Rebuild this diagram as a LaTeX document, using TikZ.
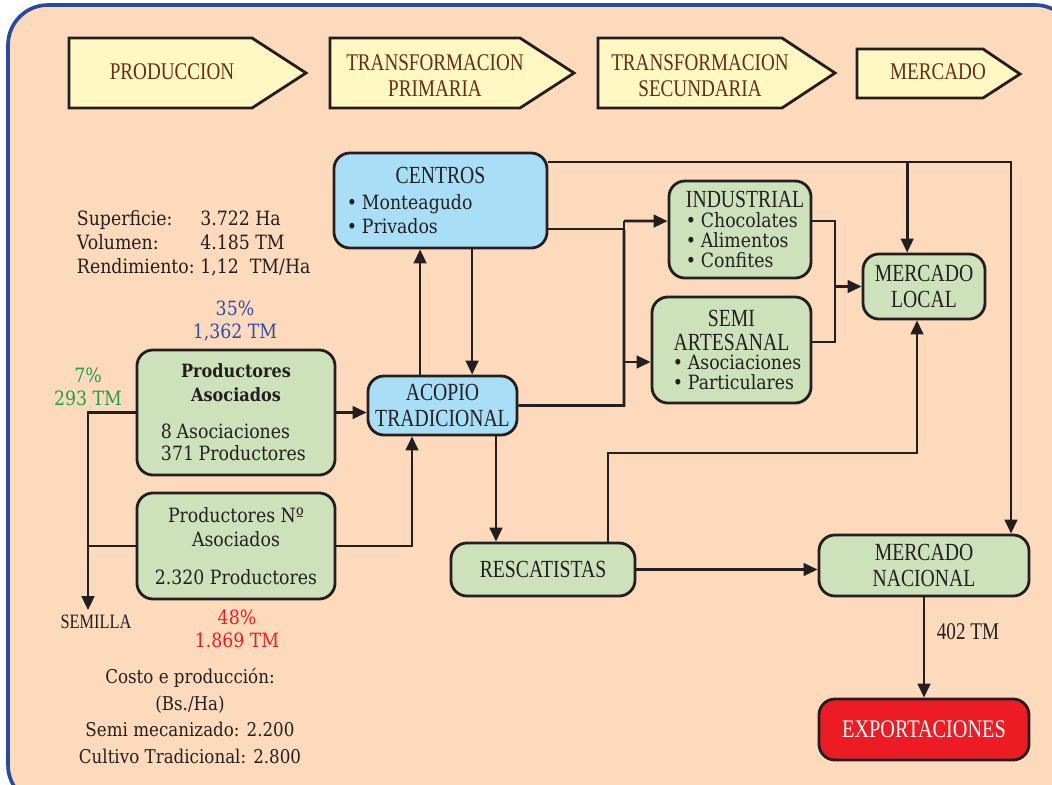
\documentclass[tikz,border=0pt]{standalone}
\usepackage{fontspec}
\setmainfont[FakeStretch=0.88]{DejaVu Serif}
\newfontfamily\capfont[FakeStretch=0.8]{Liberation Serif}
\usetikzlibrary{arrows.meta}

\definecolor{peach}{HTML}{FDDABB}
\definecolor{frame}{HTML}{2A4A9E}
\definecolor{ink}{HTML}{231F20}
\definecolor{hdrfill}{HTML}{FFF8C2}
\definecolor{hdrtext}{HTML}{6A2C17}
\definecolor{leaf}{HTML}{CDE1BB}
\definecolor{sky}{HTML}{A8DFF6}
\definecolor{expred}{HTML}{ED1C24}
\definecolor{valblue}{HTML}{2E4DA7}
\definecolor{valgreen}{HTML}{1E9E4F}

\tikzset{hdr/.style={draw=ink,fill=hdrfill,line width=2pt,line join=miter},
         hdrlabel/.style={font=\capfont\fontsize{17}{18.5}\selectfont,text=hdrtext,align=center},
         box/.style={draw=ink,line width=2pt,rounded corners=0.4cm,text=ink,inner sep=0pt},
         greenbox/.style={box,fill=leaf},
         bluebox/.style={box,fill=sky},
         caps/.style={font=\capfont\fontsize{17.5}{18}\selectfont},
         body/.style={font=\fontsize{14}{17}\selectfont,text=ink},
         flow/.style={draw=ink,line width=1.9pt},
         feed/.style={flow,-{Triangle[length=10pt,width=9pt]}}}

\begin{document}
\begin{tikzpicture}[x=0.025cm,y=-0.025cm]
\useasboundingbox (0,0) rectangle (1052,784);
\clip (0,0) rectangle (1052,784);
\draw[frame,line width=2.6pt,fill=peach,rounded corners=1cm] (8,5) rectangle (1075,805);

% etapas
\draw[hdr] (69,38) -- (252,38) -- (306,73) -- (252,108) -- (69,108) -- cycle;
\node[hdrlabel] (prod) at (172,72) {PRODUCCION};
\draw[hdr] (330,38) -- (520,38) -- (574,73) -- (520,108) -- (330,108) -- cycle;
\node[hdrlabel] (tprim) at (435,76) {TRANSFORMACION\\PRIMARIA};
\draw[hdr] (598,38) -- (782,38) -- (835,73) -- (782,108) -- (598,108) -- cycle;
\node[hdrlabel] (tsec) at (700,76) {TRANSFORMACION\\SECUNDARIA};
\draw[hdr] (857,49) -- (983,49) -- (1020,74) -- (983,98) -- (857,98) -- cycle;
\node[hdrlabel] (merc) at (938,72) {MERCADO};

% cajas
\node[bluebox,minimum width=5.325cm,minimum height=2.375cm,text width=4.675cm] (centros) at (440.5,200.5)
  {\centering\capfont\fontsize{17.5}{18}\selectfont CENTROS\par\vskip2pt
   \raggedright\rmfamily\fontsize{14}{17}\selectfont •~Monteagudo\\•~Privados\par};
\node[bluebox,caps,align=center,minimum width=3.725cm,minimum height=1.475cm] (acopio) at (442.5,405.5)
  {ACOPIO\\TRADICIONAL};
\node[greenbox,minimum width=3.55cm,minimum height=2.425cm,text width=2.7cm] (industrial) at (740,229.5)
  {\centering\capfont\fontsize{17.5}{14}\selectfont \mbox{INDUSTRIAL}\par
   \raggedright\rmfamily\fontsize{14}{14}\selectfont \mbox{•~Chocolates}\\\mbox{•~Alimentos}\\\mbox{•~Confites}\par};
\node[greenbox,minimum width=3.975cm,minimum height=2.65cm,text width=2.925cm] (semi) at (731.5,350)
  {\centering\capfont\fontsize{17.5}{17}\selectfont SEMI\\\mbox{ARTESANAL}\par
   \raggedright\rmfamily\fontsize{14}{14}\selectfont \mbox{•~Asociaciones}\\\mbox{•~Particulares}\par};
\node[greenbox,caps,align=center,minimum width=3.05cm,minimum height=1.625cm] (mlocal) at (924,286.5)
  {MERCADO\\LOCAL};
\node[greenbox,minimum width=4.95cm,minimum height=3.125cm,text width=3.75cm] (pa) at (236,412.5)
  {\centering\bfseries\fontsize{13}{17}\selectfont Productores\\Asociados\par\vskip11pt
   \raggedright\mdseries\fontsize{14}{15.6}\selectfont 8~Asociaciones\\371~Productores\par};
\node[greenbox,body,align=center,minimum width=4.95cm,minimum height=2.65cm] (pna) at (236,546)
  {Productores Nº\\Asociados\\[10pt]2.320 Productores};
\node[greenbox,caps,minimum width=4.6cm,minimum height=1.325cm] (resc) at (543,569.5) {RESCATISTAS};
\node[greenbox,caps,align=center,minimum width=5.25cm,minimum height=1.525cm] (mnac) at (924,565.5)
  {MERCADO\\NACIONAL};
\node[box,fill=expred,caps,text=white,minimum width=5.25cm,minimum height=1.525cm,font=\capfont\fontsize{18}{18}\selectfont] (expo) at (924,729.5)
  {EXPORTACIONES};

% textos sueltos
\node[body,anchor=north west] (stats) at (72,204)
  {\begin{tabular}{@{}l@{\hspace{4pt}}l@{}}
   Superficie: & 3.722 Ha\\ Volumen: & 4.185 TM\\ Rendimiento: & 1,12\ \ TM/Ha
   \end{tabular}};
\node[body,text=valblue,align=center,font=\fontsize{14}{16.5}\selectfont] (share35) at (235,321) {35\%\\1,362 TM};
\node[body,text=valgreen,align=center,font=\fontsize{14}{16.5}\selectfont] (share7) at (88,387) {7\%\\293 TM};
\node[body,text=expred,align=center,font=\fontsize{14}{16.5}\selectfont] (share48) at (237,629) {48\%\\1.869 TM};
\node[caps,text=ink,font=\capfont\fontsize{14.5}{15}\selectfont] (semilla) at (96,622) {SEMILLA};
\node[body,align=center,font=\fontsize{13.5}{19}\selectfont] (cost) at (190,716)
  {Costo e producción:\\(Bs./Ha)\\Semi mecanizado: 2.200\\Cultivo Tradicional: 2.800};
\node[caps,text=ink,font=\capfont\fontsize{17}{17}\selectfont] (tm402) at (968,632) {402 TM};

% enlaces
\coordinate (sbus) at (88,0);
\coordinate (tbus) at (624,0);
\coordinate (mbus) at (835,0);
\coordinate (rbus) at (1011,0);
\coordinate (jn) at (412,0);
\coordinate (dn) at (496,0);
\coordinate (top) at ([yshift=0.96cm]centros.east);
\coordinate (lk) at ([xshift=-0.42cm]mlocal.north);
\coordinate (rl) at (608,453);
\coordinate (rr) at (917,453);

\draw[feed] (pa.west) -| (semilla.north -| sbus);
\draw[flow] (pna.west) -- (pna.west -| sbus);
\draw[feed] (pa.east) -- (pa.east -| acopio.west);
\draw[feed] (pna.east) -| (acopio.south -| jn);
\draw[feed] ([xshift=-0.56cm]acopio.north) -- ([xshift=-0.56cm]acopio.north |- centros.south);
\draw[feed] ([xshift=0.79cm]centros.south) -- ([xshift=0.79cm]centros.south |- acopio.north);
\draw[feed] (acopio.east) -| (tbus |- industrial.west) ++(0,-8.5) -- ([yshift=0.21cm]industrial.west);
\draw[flow] (tbus |- industrial.west) -- ++(0,-8.5);
\draw[flow] ([yshift=-0.71cm]centros.east) -- ([yshift=-0.71cm]centros.east -| tbus);
\draw[feed] ([yshift=-0.3cm]semi.west -| tbus) -- ([yshift=-0.3cm]semi.west);
\draw[flow] ([yshift=0.21cm]industrial.east) -| ([yshift=0.2cm]semi.east -| mbus) -- ([yshift=0.2cm]semi.east);
\draw[feed] (mlocal.west -| mbus) -- (mlocal.west);
\draw[feed] (top) -| (mnac.north -| rbus);
\draw[feed] (lk |- top) -- (lk);
\draw[feed] (resc.east) -- (resc.east -| mnac.west);
\draw[feed] (acopio.south -| dn) -- (resc.north -| dn);
\draw[feed] (resc.north -| rl) -- (rl) -- (rr) -- (mlocal.south -| rr);
\draw[feed] (mnac.south) -- (expo.north);
\end{tikzpicture}
\end{document}
